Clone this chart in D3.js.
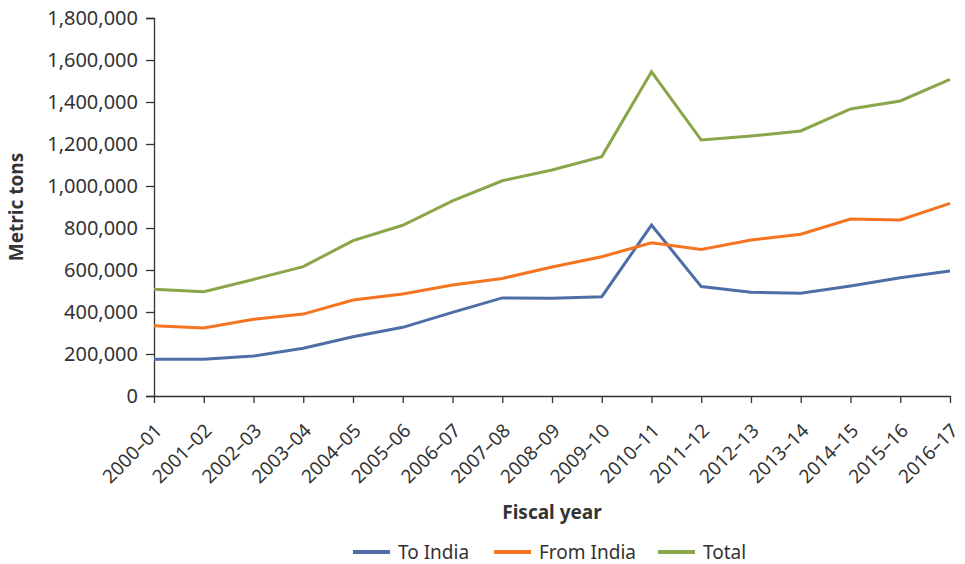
<!DOCTYPE html>
<html>
<head>
<meta charset="utf-8">
<script src="https://cdn.jsdelivr.net/npm/d3@7"></script>
<style>
  body { margin: 0; background: #fff; }
  svg text { font-family: "Noto Sans", Lato, sans-serif; fill: #333; }
</style>
</head>
<body>
<div id="chart"></div>
<script>
// Fiscal years on the x axis
const years = ["2000–01", "2001–02", "2002–03", "2003–04", "2004–05", "2005–06",
  "2006–07", "2007–08", "2008–09", "2009–10", "2010–11", "2011–12",
  "2012–13", "2013–14", "2014–15", "2015–16", "2016–17"];

// Metric tons
const toIndia = [175000, 175000, 190000, 227000, 282000, 327000, 398000, 467000, 465000,
  473000, 814000, 521000, 494000, 489000, 524000, 563000, 595000];
const fromIndia = [335000, 324000, 365000, 390000, 457000, 486000, 529000, 560000, 614000,
  663000, 730000, 698000, 743000, 770000, 843000, 838000, 917000];
const total = [508000, 497000, 555000, 616000, 740000, 813000, 929000, 1025000, 1076000,
  1140000, 1544000, 1219000, 1238000, 1262000, 1367000, 1405000, 1508000];

const yTicks = [0, 200000, 400000, 600000, 800000, 1000000, 1200000, 1400000, 1600000, 1800000];

const series = [
  { name: "To India", values: toIndia, color: "#4f6ea8" },
  { name: "From India", values: fromIndia, color: "#f47421" },
  { name: "Total", values: total, color: "#8aa64a" }
];

const width = 965, height = 564;
const svg = d3.select("#chart").append("svg")
  .attr("width", width)
  .attr("height", height);

const x = d3.scalePoint().domain(years).range([154, 950]);
const y = d3.scaleLinear().domain([0, 1800000]).range([396, 18]);

// y axis
const yAxis = svg.append("g")
  .attr("transform", "translate(154,0)")
  .call(d3.axisLeft(y).tickValues(yTicks).tickSize(8).tickPadding(8)
    .tickFormat(d3.format(",")));
yAxis.selectAll("text").style("font-size", "20px");
yAxis.selectAll("path, line").attr("stroke", "#333").attr("stroke-width", 1.3);

// x axis
const xAxis = svg.append("g")
  .attr("transform", "translate(0,396)")
  .call(d3.axisBottom(x).tickSize(7).tickSizeOuter(0));
xAxis.selectAll("path, line").attr("stroke", "#333").attr("stroke-width", 1.3);
xAxis.selectAll("text")
  .style("font-size", "19px")
  .attr("text-anchor", "end")
  .attr("dy", "0.35em")
  .attr("transform", "translate(-3,24) rotate(-45)");

// lines
const line = d3.line()
  .x((d, i) => x(years[i]))
  .y(d => y(d));

svg.selectAll(".series")
  .data(series)
  .enter()
  .append("path")
  .attr("class", "series")
  .attr("fill", "none")
  .attr("stroke", d => d.color)
  .attr("stroke-width", 3)
  .attr("d", d => line(d.values));

// axis titles
svg.append("text")
  .attr("transform", "translate(23,207) rotate(-90)")
  .attr("text-anchor", "middle")
  .style("font-size", "19px")
  .style("font-weight", "bold")
  .text("Metric tons");

svg.append("text")
  .attr("x", 552)
  .attr("y", 519)
  .attr("text-anchor", "middle")
  .style("font-size", "19px")
  .style("font-weight", "bold")
  .text("Fiscal year");

// legend
const legendX = [353, 494, 658];
const legend = svg.selectAll(".legend")
  .data(series)
  .enter()
  .append("g")
  .attr("class", "legend")
  .attr("transform", (d, i) => "translate(" + legendX[i] + ",552)");
legend.append("line")
  .attr("x1", 0).attr("x2", 37)
  .attr("stroke", d => d.color)
  .attr("stroke-width", 4);
legend.append("text")
  .attr("x", 45)
  .attr("dy", "0.35em")
  .style("font-size", "19px")
  .text(d => d.name);
</script>
</body>
</html>
